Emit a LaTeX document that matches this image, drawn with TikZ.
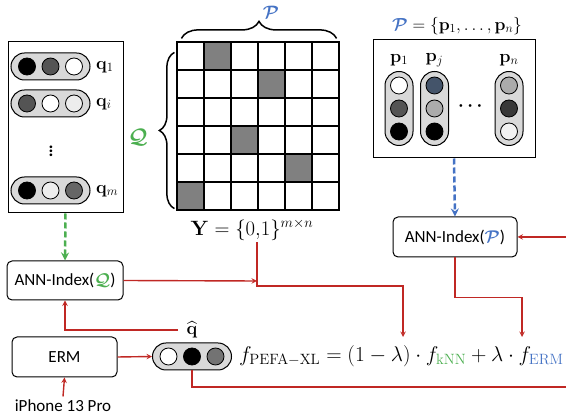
\RequirePackage{fix-cm}
\documentclass[tikz,border=0pt]{standalone}
\usepackage{amsmath}
\usepackage{amssymb}
\usepackage{bm}
\usepackage[no-math]{fontspec}
\setmainfont{Carlito}
\usepackage{tikz}
\usetikzlibrary{arrows,shapes,positioning,decorations.pathreplacing}
\usepackage{xcolor}
\definecolor{pefared}{RGB}{192,40,36}
\definecolor{pefagreen}{RGB}{76,175,80}
\definecolor{pefablue}{RGB}{68,114,196}
\definecolor{pillgray}{RGB}{217,217,217}
\definecolor{slate}{RGB}{68,84,106}
\tikzstyle{redarrow} = [line width=1.4pt,->,>=stealth,color=pefared]
\tikzstyle{redline} = [line width=1.4pt,color=pefared]
\tikzstyle{dasharrow} = [line width=2.5pt,dashed,dash pattern=on 6pt off 3pt,->,>=stealth]
\tikzstyle{box} = [draw, line width=1pt, rounded corners=5pt, inner sep=0pt, font=\fontsize{17}{19}\selectfont]
\tikzstyle{panel} = [draw, line width=1pt, inner sep=0pt]
\tikzstyle{hpill} = [draw, line width=1pt, fill=pillgray, rounded corners=13.5pt, minimum width=79pt, minimum height=27pt, inner sep=0pt]
\tikzstyle{vpill} = [draw, line width=1pt, fill=pillgray, rounded corners=14pt, minimum width=28pt, minimum height=74pt, inner sep=0pt]
\tikzstyle{dot} = [draw, circle, line width=0.8pt, minimum size=17pt, inner sep=0pt]
\tikzstyle{lab} = [font=\fontsize{18}{20}\selectfont]

% horizontal vector: name, x, y, three fills
\newcommand{\hvec}[6]{%
  \node[hpill] (#1) at (#2,#3) {};
  \node[dot, fill=#4] (#1-a) at ([xshift=-23.5pt]#1.center) {};
  \node[dot, fill=#5] (#1-b) at (#1.center) {};
  \node[dot, fill=#6] (#1-c) at ([xshift=23.5pt]#1.center) {};
}
% vertical vector
\newcommand{\vvec}[6]{%
  \node[vpill] (#1) at (#2,#3) {};
  \node[dot, fill=#4] (#1-a) at ([yshift=23pt]#1.center) {};
  \node[dot, fill=#5] (#1-b) at (#1.center) {};
  \node[dot, fill=#6] (#1-c) at ([yshift=-23pt]#1.center) {};
}

\begin{document}
\begin{tikzpicture}[x=1pt, y=-1pt]
    \useasboundingbox (0,0) rectangle (566,419);

    % Queries
    \node[panel, minimum width=115pt, minimum height=171pt] (qbox) at (65.5,127.5) {};
    \hvec{q1}{50.5}{66.5}{black}{black!67}{white}
    \hvec{qi}{50.5}{103.5}{black!67}{white}{black!7}
    \hvec{qm}{50.5}{190.5}{black}{black!7}{black!60}
    \node[lab, anchor=west, inner sep=0pt] (q1lab) at (96,67) {$\mathbf{q}_1$};
    \node[lab, anchor=west, inner sep=0pt] (qilab) at (96,104) {$\mathbf{q}_i$};
    \node[lab, anchor=west, inner sep=0pt] (qmlab) at (96,191) {$\mathbf{q}_m$};
    \node[font=\fontsize{18}{20}\selectfont, inner sep=0pt] (qdots) at (51,148) {$\bm{\vdots}$};
    \node[font=\fontsize{21}{23}\selectfont, text=pefagreen] (Qlab) at (138,137) {$\bm{\mathcal{Q}}$};

    % Label matrix
    \node[panel, line width=1.2pt, minimum width=162pt, minimum height=168pt] (ymat) at (258,126) {};
    \foreach \c/\r in {1/0,3/1,2/3,4/4,0/5}
        \fill[black!50] (177+27*\c,42+28*\r) rectangle ++(27,28);
    \foreach \i in {0,...,6}
        \draw[line width=1.2pt] (177+27*\i,42) -- (177+27*\i,210);
    \foreach \j in {0,...,6}
        \draw[line width=1.2pt] (177,42+28*\j) -- (339,42+28*\j);
    \draw[decorate, decoration={brace, amplitude=17pt}, line width=1.5pt]
        ([xshift=5pt,yshift=3pt]ymat.north west) -- ([xshift=-3pt,yshift=3pt]ymat.north east);
    \draw[decorate, decoration={brace, amplitude=15pt}, line width=1.5pt]
        ([xshift=-2pt,yshift=2pt]ymat.south west) -- ([xshift=-2pt,yshift=-11pt]ymat.north west);
    \node[font=\fontsize{18}{20}\selectfont, text=pefablue, inner sep=0pt] (Ptop) at (271,12) {$\bm{\mathcal{P}}$};
    \node[font=\fontsize{20.7}{23}\selectfont] (ylab) at (252,230) {$\mathbf{Y}=\{0{,}1\}^{m\times n}$};

    % Products
    \node[font=\fontsize{17.5}{20}\selectfont] (ptitle) at (457,26) {$\textcolor{pefablue}{\bm{\mathcal{P}}}=\{\mathbf{p}_1,\ldots,\mathbf{p}_n\}$};
    \node[panel, minimum width=162pt, minimum height=118pt] (pbox) at (454,99) {};
    \vvec{p1}{399}{108.5}{white}{black!67}{black}
    \vvec{pj}{434.5}{108.5}{slate}{black!33}{black}
    \vvec{pn}{509}{108.5}{black!33}{black!78}{black!5}
    \node[lab] (p1lab) at (399,60) {$\mathbf{p}_1$};
    \node[lab] (pjlab) at (434.5,60) {$\mathbf{p}_j$};
    \node[lab] (pnlab) at (509,60) {$\mathbf{p}_n$};
    \node[font=\fontsize{18}{20}\selectfont] (pdots) at (472,106) {$\bm{\cdots}$};

    % Index and encoder boxes
    \node[box, minimum width=124pt, minimum height=40pt] (annp) at (455,237) {ANN-Index(\textcolor{pefablue}{$\bm{\mathcal{P}}$})};
    \node[box, minimum width=116pt, minimum height=39pt] (annq) at (65,280.5) {ANN-Index(\textcolor{pefagreen}{$\bm{\mathcal{Q}}$})};
    \node[box, minimum width=105pt, minimum height=40pt] (erm) at (64.5,357) {ERM};
    \node[font=\fontsize{17}{19}\selectfont] (phone) at (63,406) {iPhone 13 Pro};
    \hvec{qhat}{192}{356.5}{white}{black}{black!55}
    \node[lab] (qhatlab) at (192,330) {$\widehat{\mathbf{q}}$};

    % Score
    \node[font=\fontsize{21.3}{24}\selectfont, anchor=west, inner sep=0pt] (score) at (239,356)
        {$f_{\mathrm{PEFA}{-}\mathrm{XL}}=(1-\lambda)\cdot f_{\textcolor{pefagreen}{\mathrm{kNN}}}+\lambda\cdot f_{\textcolor{pefablue}{\mathrm{ERM}}}$};

    % Connectors
    \coordinate (kin) at (403,337);
    \coordinate (ein) at (522,337);
    \coordinate (kmid) at (257,281);
    \coordinate (qtap) at (178,330);
    \coordinate (rin) at (566,237);
    \coordinate (rout) at (566,387);

    \draw[dasharrow, pefagreen] (qbox.south) -- (annq.north);
    \draw[dasharrow, pefablue] (pbox.south) -- (annp.north);
    \draw[redarrow] (annq.east) -- (kmid);
    \draw[redarrow] ([xshift=5pt,yshift=2pt]ylab.south) -- ++(0,44) -| (kin);
    \draw[redarrow] (annp.south) -- ++(0,40) -| (ein);
    \draw[redarrow] (rin) -- (annp.east);
    \draw[redarrow] (qtap) -| (annq.south);
    \draw[redarrow] (erm.east) -- (qhat.west);
    \draw[redarrow] (phone.north) -- (erm.south);
    \draw[redline] (qhat.south) |- (rout);
\end{tikzpicture}
\end{document}
